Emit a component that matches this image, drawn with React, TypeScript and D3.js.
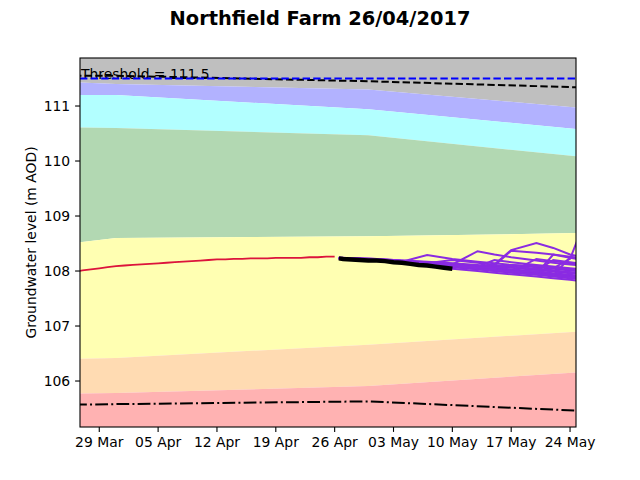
import React from "react";
import * as d3 from "d3";

const W = 640;
const H = 480;
const PL = 80, PR = 576, PT = 58, PB = 427;
const FONT = "DejaVu Sans, sans-serif";

// ---------- data ----------
const title = "Northfield Farm 26/04/2017";
const yLabel = "Groundwater level (m AOD)";
const threshold = 111.5;
const thresholdLabel = "Threshold = 111.5";

const xDomain = ["2017-03-26T17:00", "2017-05-24T17:00"];
const yDomain = [105.164, 111.873];
const xTickDates = ["2017-03-29", "2017-04-05", "2017-04-12", "2017-04-19", "2017-04-26", "2017-05-03", "2017-05-10", "2017-05-17", "2017-05-24"];
const yTicks = [106, 107, 108, 109, 110, 111];

// envelope / band boundaries
const bandDates = ["2017-03-26", "2017-03-31", "2017-04-30", "2017-05-25"];
const lavenderTop = [111.43, 111.40, 111.30, 110.97];
const cyanTop = [111.20, 111.20, 110.94, 110.58];
const greenTop = [110.61, 110.60, 110.47, 110.08];
const yellowTop = [108.51, 108.60, 108.63, 108.69];
const orangeTop = [106.40, 106.42, 106.66, 106.90];
const pinkTop = [105.77, 105.78, 105.91, 106.16];
const upperDashed = [111.55, 111.55, 111.45, 111.34];
const lowerDashDot = [105.57, 105.58, 105.63, 105.46];

// observed (red), daily from 26 Mar
const observedStart = "2017-03-26";
const observed = [107.99, 108.01, 108.03, 108.05, 108.07, 108.09, 108.10, 108.11, 108.12, 108.13, 108.14, 108.15, 108.16, 108.17, 108.18, 108.19, 108.20, 108.21, 108.21, 108.22, 108.22, 108.23, 108.23, 108.23, 108.24, 108.24, 108.24, 108.24, 108.25, 108.25, 108.26, 108.26];

// recent (black)
const recentDates = ["2017-04-26T12:00", "2017-04-27", "2017-04-28", "2017-04-29", "2017-04-30", "2017-05-01", "2017-05-02", "2017-05-03", "2017-05-04", "2017-05-05", "2017-05-06", "2017-05-07", "2017-05-08", "2017-05-09", "2017-05-10"];
const recent = [108.23, 108.22, 108.21, 108.20, 108.19, 108.19, 108.18, 108.16, 108.15, 108.13, 108.11, 108.10, 108.08, 108.06, 108.04];

// ensemble forecasts (purple)
const ensDates = ["2017-04-26T12:00", "2017-05-01", "2017-05-04", "2017-05-07", "2017-05-10", "2017-05-13", "2017-05-15", "2017-05-17", "2017-05-20", "2017-05-22", "2017-05-24", "2017-05-26"];
const ens0 = [108.23, 108.19, 108.15, 108.10, 108.04, 108.00, 107.97, 107.94, 107.90, 107.87, 107.84, 107.81];
const ens1 = [108.23, 108.20, 108.16, 108.12, 108.07, 108.03, 108.00, 107.97, 107.93, 107.90, 107.87, 107.84];
const ens2 = [108.23, 108.21, 108.17, 108.13, 108.09, 108.05, 108.02, 107.99, 107.95, 107.92, 107.89, 107.86];
const ens3 = [108.24, 108.22, 108.18, 108.15, 108.11, 108.07, 108.04, 108.01, 107.97, 107.94, 107.91, 107.88];
const ens4 = [108.24, 108.22, 108.19, 108.16, 108.13, 108.09, 108.06, 108.03, 107.99, 107.96, 107.93, 107.90];
const ens5 = [108.24, 108.22, 108.19, 108.17, 108.14, 108.11, 108.08, 108.06, 108.02, 107.99, 107.96, 107.93];
const ens6 = [108.23, 108.20, 108.17, 108.29, 108.22, 108.17, 108.14, 108.11, 108.07, 108.04, 108.01, 107.98];
const ens7 = [108.23, 108.21, 108.18, 108.15, 108.12, 108.36, 108.30, 108.25, 108.19, 108.15, 108.12, 108.09];
const ens8 = [108.23, 108.21, 108.17, 108.13, 108.09, 108.06, 108.10, 108.37, 108.33, 108.30, 108.26, 108.22];
const ens9 = [108.23, 108.20, 108.16, 108.12, 108.08, 108.05, 108.12, 108.38, 108.51, 108.42, 108.30, 108.24];
const ens10 = [108.23, 108.21, 108.17, 108.14, 108.10, 108.06, 108.03, 108.00, 107.97, 108.05, 108.22, 109.00];
const ens11 = [108.23, 108.20, 108.16, 108.12, 108.08, 108.04, 108.01, 107.98, 107.95, 108.30, 108.24, 108.19];
const ens12 = [108.23, 108.21, 108.17, 108.13, 108.10, 108.08, 108.20, 108.16, 108.11, 108.08, 108.05, 108.02];
const ens13 = [108.23, 108.20, 108.16, 108.12, 108.08, 108.04, 108.01, 107.99, 108.22, 108.18, 108.14, 108.10];
const ens14 = [108.23, 108.20, 108.16, 108.12, 108.08, 108.04, 108.01, 107.98, 107.94, 107.92, 108.25, 108.20];
const ens15 = [108.23, 108.21, 108.17, 108.14, 108.20, 108.15, 108.11, 108.08, 108.04, 108.01, 107.98, 107.95];
const ens16 = [108.23, 108.21, 108.17, 108.13, 108.09, 108.05, 108.02, 107.99, 108.00, 108.20, 108.16, 108.12];
const ens17 = [108.23, 108.20, 108.17, 108.13, 108.10, 108.07, 108.05, 108.11, 108.09, 108.06, 108.03, 108.00];
const ensembles = [ens0, ens1, ens2, ens3, ens4, ens5, ens6, ens7, ens8, ens9, ens10, ens11, ens12, ens13, ens14, ens15, ens16, ens17];

// ---------- helpers ----------
const parse = (s: string) => new Date(s.length === 10 ? s + "T00:00" : s);

export default function App() {
  const x = d3.scaleTime().domain(xDomain.map(parse)).range([PL, PR]);
  const y = d3.scaleLinear().domain(yDomain).range([PB, PT]);

  const bd = bandDates.map(parse);
  const line = d3.line<[Date, number]>().x((d) => x(d[0])).y((d) => y(d[1]));
  const area = d3
    .area<[Date, number, number]>()
    .x((d) => x(d[0]))
    .y0((d) => y(d[1]))
    .y1((d) => y(d[2]));

  const band = (lo: number[] | number, hi: number[] | number) =>
    area(
      bd.map((d, i) => [
        d,
        Array.isArray(lo) ? lo[i] : lo,
        Array.isArray(hi) ? hi[i] : hi,
      ]) as [Date, number, number][]
    ) || "";

  const bands = [
    { lo: lavenderTop, hi: 112.5, fill: "#bfbfbf" },
    { lo: cyanTop, hi: lavenderTop, fill: "#b2b2ff" },
    { lo: greenTop, hi: cyanTop, fill: "#b2ffff" },
    { lo: yellowTop, hi: greenTop, fill: "#b2d8b2" },
    { lo: orangeTop, hi: yellowTop, fill: "#ffffb2" },
    { lo: pinkTop, hi: orangeTop, fill: "#ffdbb2" },
    { lo: 104.5, hi: pinkTop, fill: "#ffb2b2" },
  ];

  const zipBand = (vals: number[]) => bd.map((d, i) => [d, vals[i]] as [Date, number]);
  const obsStart = parse(observedStart);
  const obsData = observed.map((v, i) => [d3.timeDay.offset(obsStart, i), v] as [Date, number]);
  const recData = recent.map((v, i) => [parse(recentDates[i]), v] as [Date, number]);
  const ed = ensDates.map(parse);

  const xTicks = xTickDates.map(parse);
  const fmt = d3.timeFormat("%d %b");

  return (
    <svg width={W} height={H} style={{ position: "absolute", left: 0, top: 0, background: "#fff" }} fontFamily={FONT}>
      <defs>
        <clipPath id="plot">
          <rect x={PL} y={PT} width={PR - PL} height={PB - PT} />
        </clipPath>
      </defs>
      <rect x={0} y={0} width={W} height={H} fill="#fff" />
      <g clipPath="url(#plot)">
        {bands.map((b, i) => (
          <path key={i} d={band(b.lo, b.hi)} fill={b.fill} stroke="none" />
        ))}
        <text x={81} y={79} fontSize={13.9} fill="#000">{thresholdLabel}</text>
        <path d={line(zipBand(upperDashed)) || ""} fill="none" stroke="#000" strokeWidth={2} strokeDasharray="7.4 3.2" />
        <line x1={PL} x2={PR} y1={y(threshold)} y2={y(threshold)} stroke="#0000ff" strokeWidth={2} strokeDasharray="7.4 3.2" />
        <path d={line(zipBand(lowerDashDot)) || ""} fill="none" stroke="#000" strokeWidth={2} strokeDasharray="12.8 3.2 2 3.2" />
        <path d={line(obsData) || ""} fill="none" stroke="#dc143c" strokeWidth={1.8} />
        {ensembles.map((e, i) => (
          <path key={i} d={line(ed.map((d, j) => [d, e[j]] as [Date, number])) || ""} fill="none" stroke="#8a2be2" strokeWidth={2} strokeLinejoin="miter" />
        ))}
        <path d={line(recData) || ""} fill="none" stroke="#000" strokeWidth={4.5} />
      </g>
      <rect x={PL} y={PT} width={PR - PL} height={PB - PT} fill="none" stroke="#000" strokeWidth={1.1} />
      {yTicks.map((t) => (
        <g key={t}>
          <line x1={PL - 4.9} x2={PL} y1={y(t)} y2={y(t)} stroke="#000" strokeWidth={1.1} />
          <text x={PL - 9.8} y={y(t)} dy="0.35em" textAnchor="end" fontSize={13.9} fill="#000">{t}</text>
        </g>
      ))}
      {xTicks.map((t, i) => (
        <g key={i}>
          <line x1={x(t)} x2={x(t)} y1={PB} y2={PB + 4.9} stroke="#000" strokeWidth={1.1} />
          <text x={x(t)} y={PB + 9.8} dy="0.76em" textAnchor="middle" fontSize={13.9} fill="#000">{fmt(t)}</text>
        </g>
      ))}
      <text transform={`translate(36,${(PT + PB) / 2}) rotate(-90)`} textAnchor="middle" fontSize={13.9} fill="#000">{yLabel}</text>
      <text x={W / 2} y={25} textAnchor="middle" fontSize={19.4} fontWeight="bold" fill="#000">{title}</text>
    </svg>
  );
}
